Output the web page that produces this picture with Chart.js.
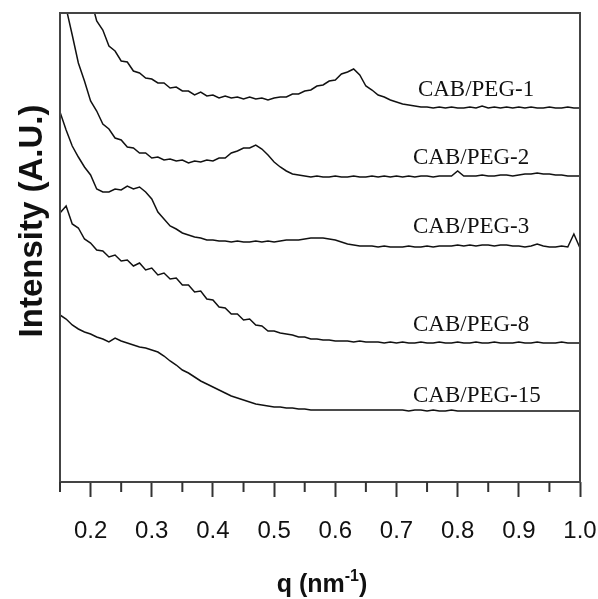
<!DOCTYPE html>
<html>
<head>
<meta charset="utf-8">
<script src="https://cdn.jsdelivr.net/npm/chart.js@4.4.0/dist/chart.umd.min.js"></script>
<style>
  html, body { margin: 0; padding: 0; background: #fff; }
</style>
</head>
<body>
<canvas id="chart" width="598" height="599"></canvas>
<script>
// scattering vector q (nm^-1)
const q = [0.15, 0.16, 0.17, 0.18, 0.19, 0.20, 0.21, 0.22, 0.23, 0.24,
  0.25, 0.26, 0.27, 0.28, 0.29, 0.30, 0.31, 0.32, 0.33, 0.34,
  0.35, 0.36, 0.37, 0.38, 0.39, 0.40, 0.41, 0.42, 0.43, 0.44,
  0.45, 0.46, 0.47, 0.48, 0.49, 0.50, 0.51, 0.52, 0.53, 0.54,
  0.55, 0.56, 0.57, 0.58, 0.59, 0.60, 0.61, 0.62, 0.63, 0.64,
  0.65, 0.66, 0.67, 0.68, 0.69, 0.70, 0.71, 0.72, 0.73, 0.74,
  0.75, 0.76, 0.77, 0.78, 0.79, 0.80, 0.81, 0.82, 0.83, 0.84,
  0.85, 0.86, 0.87, 0.88, 0.89, 0.90, 0.91, 0.92, 0.93, 0.94,
  0.95, 0.96, 0.97, 0.98, 0.99, 1.00];

// intensity (arbitrary units, curves shifted vertically)
const peg1 = [null, null, null, null, 510, 484, 461, 452, 436, 431,
  421, 420, 411, 409, 404, 403, 399, 399, 394, 395,
  391, 391, 387, 390, 386, 387, 384, 386, 384, 385,
  383, 385, 383, 384, 382, 384, 385, 385, 388, 388,
  391, 392, 396, 397, 401, 402, 408, 410, 413, 407,
  396, 392, 387, 385, 382, 380, 378, 377, 376, 375,
  375, 374, 375, 374, 375, 374, 374, 375, 374, 376,
  374, 375, 374, 375, 374, 375, 374, 375, 374, 374,
  375, 374, 374, 375, 374, 374];
const peg2 = [530, 474, 447, 419, 401, 381, 371, 358, 353, 344,
  342, 335, 334, 329, 329, 324, 325, 322, 323, 321,
  322, 319, 321, 320, 322, 321, 324, 324, 329, 331,
  334, 334, 337, 333, 327, 320, 315, 311, 308, 307,
  306, 305, 306, 305, 305, 306, 305, 305, 306, 305,
  305, 306, 305, 306, 305, 306, 305, 306, 305, 306,
  306, 305, 306, 306, 306, 311, 306, 306, 306, 307,
  306, 306, 307, 307, 306, 307, 308, 308, 309, 308,
  308, 307, 307, 306, 306, 306];
const peg3 = [370, 352, 336, 325, 315, 307, 293, 290, 290, 293,
  292, 296, 293, 295, 290, 283, 270, 263, 256, 253,
  249, 247, 245, 244, 242, 242, 241, 241, 240, 241,
  240, 240, 241, 240, 241, 240, 241, 242, 242, 242,
  243, 244, 244, 244, 243, 242, 240, 238, 237, 236,
  236, 236, 235, 236, 235, 235, 235, 236, 235, 235,
  236, 235, 236, 236, 236, 237, 236, 237, 236, 237,
  237, 236, 237, 237, 236, 236, 235, 236, 238, 236,
  235, 235, 236, 235, 248, 234];
const peg8 = [269, 276, 258, 254, 243, 239, 232, 231, 225, 227,
  221, 222, 216, 219, 212, 214, 207, 209, 203, 204,
  197, 197, 190, 191, 183, 182, 175, 174, 168, 168,
  162, 163, 157, 156, 151, 151, 149, 148, 147, 145,
  145, 143, 143, 142, 142, 141, 141, 141, 140, 141,
  140, 140, 140, 139, 140, 139, 140, 139, 139, 140,
  139, 139, 140, 139, 139, 140, 139, 139, 140, 139,
  139, 140, 139, 139, 139, 140, 139, 139, 140, 139,
  139, 139, 140, 139, 139, 139];
const peg15 = [167, 163, 157, 153, 150, 148, 145, 143, 140, 144,
  141, 139, 137, 135, 134, 132, 130, 126, 121, 117,
  112, 109, 105, 101, 98, 95, 92, 89, 86, 84,
  82, 80, 78, 77, 76, 75, 75, 74, 74, 73,
  73, 72, 72, 72, 72, 72, 72, 72, 72, 72,
  72, 72, 72, 72, 72, 72, 72, 71, 72, 72,
  71, 72, 71, 71, 72, 71, 71, 71, 71, 71,
  71, 71, 71, 71, 71, 71, 71, 71, 71, 71,
  71, 71, 71, 71, 71, 71];

const sampleNames = ['CAB/PEG-1', 'CAB/PEG-2', 'CAB/PEG-3', 'CAB/PEG-8', 'CAB/PEG-15'];
const series = [peg1, peg2, peg3, peg8, peg15];

// where each curve's name sits (data coords: q, intensity baseline)
const namePos = [[0.735, 386], [0.727, 318], [0.727, 249], [0.727, 151], [0.727, 80]];

const isMajor = v => Math.round(v * 100) % 10 === 0;

const extras = {
  id: 'extras',
  afterDraw(chart) {
    const { ctx, chartArea: a, scales } = chart;
    ctx.save();
    // frame
    ctx.strokeStyle = '#444';
    ctx.lineWidth = 2;
    ctx.strokeRect(a.left, a.top, a.right - a.left, a.bottom - a.top);
    // minor ticks
    ctx.strokeStyle = '#333';
    scales.x.ticks.forEach(t => {
      if (isMajor(t.value)) return;
      const x = scales.x.getPixelForValue(t.value);
      ctx.beginPath();
      ctx.moveTo(x, a.bottom);
      ctx.lineTo(x, a.bottom + 10);
      ctx.stroke();
    });
    // curve names
    ctx.fillStyle = '#111';
    ctx.font = '23px "Liberation Serif", "Times New Roman", serif';
    ctx.textAlign = 'left';
    ctx.textBaseline = 'alphabetic';
    namePos.forEach((p, i) => {
      ctx.fillText(sampleNames[i], scales.x.getPixelForValue(p[0]), scales.y.getPixelForValue(p[1]));
    });
    // x title with superscript
    const big = 'bold 25px "Liberation Sans", Arial, sans-serif';
    const small = 'bold 16px "Liberation Sans", Arial, sans-serif';
    ctx.font = big;
    const w1 = ctx.measureText('q (nm').width;
    const w3 = ctx.measureText(')').width;
    ctx.font = small;
    const w2 = ctx.measureText('-1').width;
    let x = 322 - (w1 + w2 + w3) / 2;
    const base = 592;
    ctx.font = big;
    ctx.fillText('q (nm', x, base);
    x += w1;
    ctx.font = small;
    ctx.fillText('-1', x, base - 11);
    x += w2;
    ctx.font = big;
    ctx.fillText(')', x, base);
    // y title
    ctx.translate(42, 221);
    ctx.rotate(-Math.PI / 2);
    ctx.textAlign = 'center';
    ctx.font = 'bold 33px "Liberation Sans", Arial, sans-serif';
    ctx.fillText('Intensity (A.U.)', 0, 0);
    ctx.restore();
  }
};

new Chart(document.getElementById('chart').getContext('2d'), {
  type: 'line',
  data: {
    datasets: series.map((s, i) => ({
      label: sampleNames[i],
      data: q.map((x, j) => ({ x: x, y: s[j] })),
      borderColor: '#111',
      borderWidth: 1.5,
      pointRadius: 0,
      tension: 0,
      fill: false
    }))
  },
  options: {
    responsive: false,
    animation: false,
    layout: { padding: { top: 13, right: 18, left: 0, bottom: 0 } },
    plugins: { legend: { display: false }, tooltip: { enabled: false } },
    scales: {
      x: {
        type: 'linear',
        min: 0.15,
        max: 1.0,
        border: { display: false },
        grid: {
          drawOnChartArea: false,
          tickLength: 15,
          tickWidth: 2,
          tickColor: c => (c.tick && isMajor(c.tick.value)) ? '#333' : 'rgba(0,0,0,0)'
        },
        ticks: {
          stepSize: 0.05,
          autoSkip: false,
          maxRotation: 0,
          padding: 20,
          color: '#111',
          font: { family: '"Liberation Sans", Arial, sans-serif', size: 24 },
          callback: v => isMajor(v) ? v.toFixed(1) : ''
        },
        afterFit: s => { s.height = 117; s.paddingLeft = 0; s.paddingRight = 0; }
      },
      y: {
        min: 0,
        max: 469,
        ticks: { display: false },
        grid: { display: false },
        border: { display: false },
        afterFit: s => { s.width = 60; }
      }
    }
  },
  plugins: [extras]
});
</script>
</body>
</html>
